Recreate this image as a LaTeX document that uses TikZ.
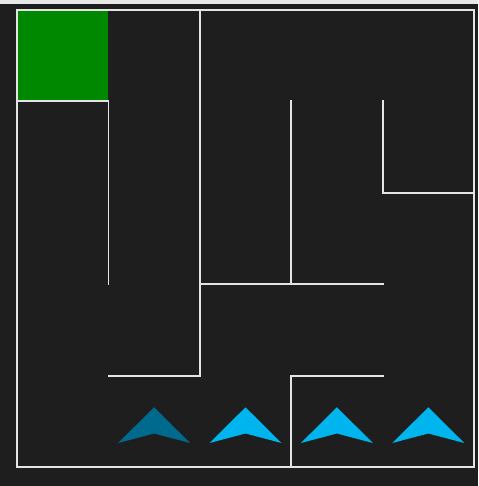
\documentclass[tikz,border=0pt]{standalone}
\begin{document}
\begin{tikzpicture}[x=1pt,y=-1pt,
  wall/.style={draw=wallc,line width=1.8pt,line cap=rect},
  arrowdark/.style={fill=arrowd},
  arrowlight/.style={fill=arrowl}]
\definecolor{bgc}{HTML}{1E1E1E}
\definecolor{topc}{HTML}{E8E8E8}
\definecolor{wallc}{HTML}{E4E4E4}
\definecolor{greenc}{HTML}{008800}
\definecolor{arrowd}{HTML}{006A8E}
\definecolor{arrowl}{HTML}{00B4EE}
\useasboundingbox (0,0) rectangle (478,486);
\fill[bgc] (0,0) rectangle (478,486);
\fill[topc] (0,0) rectangle (478,4);
% goal cell
\fill[greenc] (17,10) rectangle (108.4,101.4);
% coordinates of grid
\foreach \i/\v in {0/17,1/108.4,2/199.8,3/291.2,4/382.6,5/474}{
  \coordinate (x\i) at (\v,0);
}
% walls
\draw[wall] (17,10) rectangle (474,467);
\draw[wall] (17,101.4) -- (108.4,101.4) -- (108.4,284.2);
\draw[wall] (199.8,10) -- (199.8,375.6) -- (108.4,375.6);
\draw[wall] (199.8,284.2) -- (382.6,284.2);
\draw[wall] (291.2,101.4) -- (291.2,284.2);
\draw[wall] (382.6,101.4) -- (382.6,192.8) -- (474,192.8);
\draw[wall] (382.6,375.6) -- (291.2,375.6) -- (291.2,467);
% arrows
\foreach \c/\s in {154.1/arrowdark,245.5/arrowlight,336.9/arrowlight,428.3/arrowlight}{
  \fill[\s] (\c,407.3) -- (\c+36,443) -- (\c,433.5) -- (\c-36,443) -- cycle;
}
\end{tikzpicture}
\end{document}
